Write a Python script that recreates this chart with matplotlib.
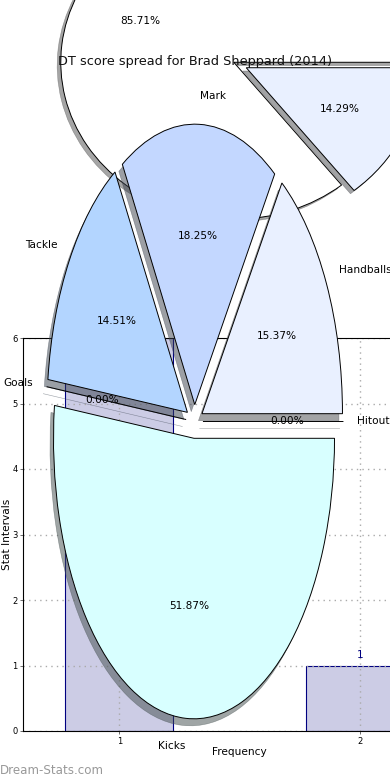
#!/usr/bin/env python3
"""DT score spread chart: frequency bars behind two stretched exploded pies."""

import matplotlib

matplotlib.use("Agg")
import matplotlib.pyplot as plt

W, H = 390, 780

TITLE = "DT score spread for Brad Sheppard (2014)"
WATERMARK = "Dream-Stats.com"

# frequency bars
BAR_POSITIONS = [1, 2]
BAR_COUNTS = [6, 1]
Y_TICKS = [0, 1, 2, 3, 4, 5, 6]

# upper pie (no labels)
SPREAD_VALUES = [85.71, 14.29]
SPREAD_COLORS = ["#FFFFFF", "#E9F0FF"]

# lower pie, stat make-up
STAT_LABELS = ["Handballs", "Mark", "Tackle", "Goals", "Kicks", "Hitout"]
STAT_VALUES = [15.37, 18.25, 14.51, 0.0, 51.87, 0.0]
STAT_COLORS = ["#E9F0FF", "#C3D7FF", "#B3D5FF", "#B3D5FF", "#D8FFFF", "#E9F0FF"]


def axes_px(fig, left, top, right, bottom, zorder):
    rect = [left / W, 1 - bottom / H, (right - left) / W, (bottom - top) / H]
    return fig.add_axes(rect, zorder=zorder)


def pie_axes(fig, cx, cy, rx, ry, zorder):
    # the pies were drawn on non-square axes, so they come out stretched
    ax = axes_px(fig, cx - 1.25 * rx, cy - 1.25 * ry, cx + 1.25 * rx, cy + 1.25 * ry, zorder)
    ax.patch.set_visible(False)
    return ax


def draw_bars(ax):
    ax.bar(BAR_POSITIONS, BAR_COUNTS, width=0.45, color="navy", alpha=0.2, zorder=2)
    ax.bar(BAR_POSITIONS, BAR_COUNTS, width=0.45, fill=False, edgecolor="navy", linewidth=0.8, zorder=2)
    for x, count in zip(BAR_POSITIONS, BAR_COUNTS):
        ax.text(x, count + 0.08, str(count), ha="center", va="bottom", color="navy", fontsize=7.6, clip_on=True)
    ax.set_xlim(0.6, 2.4)
    ax.set_ylim(0, 6)
    ax.set_xticks(BAR_POSITIONS)
    ax.set_yticks(Y_TICKS)
    ax.tick_params(labelsize=6, length=2, width=0.6, color="#555555", pad=2)
    ax.grid(True, color="#AAAAAA", linestyle=(0, (1, 3)), linewidth=1.0, zorder=3)
    ax.set_axisbelow(False)
    for spine in ax.spines.values():
        spine.set_zorder(5)
    ax.set_ylabel("Stat Intervals", fontsize=7.6, labelpad=0)
    ax.set_xlabel("Frequency", fontsize=7.6, labelpad=1)


def draw_pie(ax, values, colors, explode, shadow_off, labels=None):
    _, _, autotexts = ax.pie(
        values,
        explode=[explode] * len(values),
        labels=labels,
        colors=colors,
        autopct="%.2f%%",
        shadow={"ox": -shadow_off, "oy": -shadow_off, "linewidth": 0.4},
        startangle=0,
        wedgeprops={"edgecolor": "black", "linewidth": 0.7},
        textprops={"fontsize": 7.6},
    )
    ax.set_aspect("auto")
    ax.set_xlim(-1.25, 1.25)
    ax.set_ylim(-1.25, 1.25)
    return autotexts


def main():
    fig = plt.figure(figsize=(W / 100, H / 100), dpi=100, facecolor="white")

    bar_ax = axes_px(fig, 23, 338, 456, 731, 1)
    draw_bars(bar_ax)

    draw_pie(pie_axes(fig, 240, 65, 173, 157, 2), SPREAD_VALUES, SPREAD_COLORS, 0.04, 0.015)
    draw_pie(pie_axes(fig, 194.5, 421.5, 140.5, 280.5, 3), STAT_VALUES, STAT_COLORS, 0.06, 0.018, STAT_LABELS)

    fig.text(195 / W, 1 - 61 / H, TITLE, ha="center", va="center", fontsize=9.3, color="#111111", zorder=10)
    fig.text(0, 1 - 770.5 / H, WATERMARK, ha="left", va="center", fontsize=8.6, color="#999999", zorder=10)

    fig.savefig("out.png", dpi=100)


if __name__ == "__main__":
    main()
